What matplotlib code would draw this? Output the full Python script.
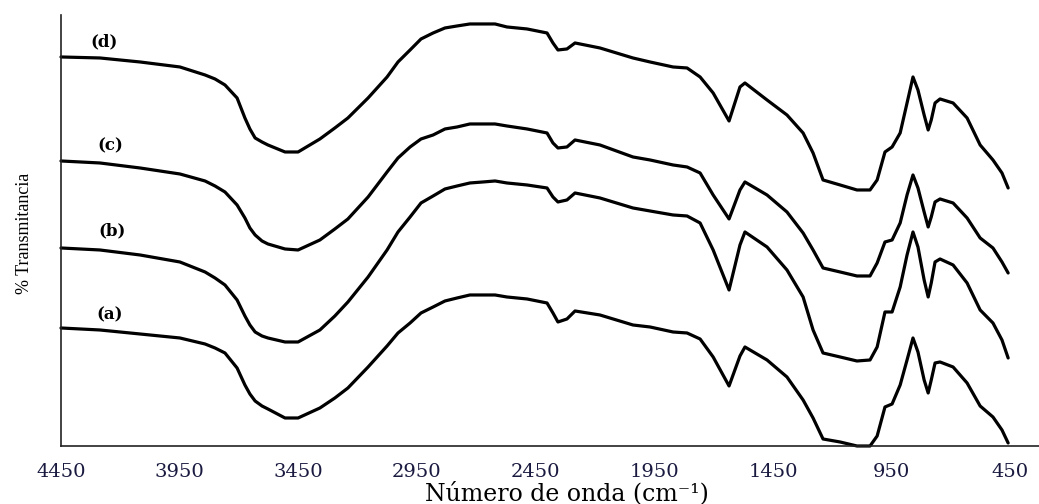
import numpy as np
import matplotlib
matplotlib.use('Agg')
import matplotlib.pyplot as plt

# wavenumbers (cm-1) shared by the four spectra
wavenumber = [4450, 4286, 4117, 3949, 3843, 3801, 3759, 3708, 3675, 3654,
              3632, 3603, 3578, 3506, 3451, 3359, 3296, 3241, 3156, 3076,
              3030, 2979, 2933, 2882, 2832, 2781, 2727, 2672, 2621, 2571,
              2486, 2402,
              2377, 2356, 2318, 2284, 2179, 2040, 1968, 1871, 1812, 1757,
              1702, 1635, 1589, 1568, 1475, 1391, 1323, 1281, 1239, 1167,
              1096, 1041, 1011, 978, 948, 914, 885, 860, 839, 813,
              796, 783, 767, 746, 691, 632, 577, 523, 485, 459]

# stacked transmittance traces (arbitrary units, already offset)
spec_a = [118, 116, 112, 108, 102, 98, 93, 78, 61, 52,
          45, 40, 37, 28, 28, 38, 48, 58, 79, 100,
          113, 123, 133, 139, 145, 148, 151, 151, 151, 149,
          147, 143,
          133, 124, 127, 135, 131, 121, 119, 114, 113, 107,
          89, 60, 90, 99, 86, 69, 46, 28, 7, 4,
          0, 0, 10, 39, 42, 61, 86, 108, 94, 66,
          53, 66, 83, 84, 79, 63, 40, 29, 16, 3]
spec_b = [198, 196, 191, 184, 174, 168, 161, 146, 130, 121,
          114, 110, 108, 104, 104, 116, 130, 144, 169, 196,
          214, 229, 243, 250, 257, 260, 263, 264, 265, 263,
          261, 258,
          249, 244, 246, 253, 248, 238, 235, 231, 230, 223,
          196, 156, 201, 214, 199, 176, 149, 116, 93, 89,
          85, 86, 99, 134, 134, 159, 191, 214, 199, 166,
          149, 163, 184, 187, 181, 163, 136, 123, 106, 88]
spec_c = [285, 283, 278, 272, 265, 260, 254, 241, 228, 218,
          211, 205, 202, 197, 196, 206, 217, 227, 249, 274,
          288, 299, 307, 311, 317, 319, 322, 322, 322, 320,
          317, 313,
          303, 298, 299, 306, 301, 289, 286, 281, 279, 273,
          251, 227, 256, 264, 251, 234, 213, 196, 178, 174,
          170, 170, 183, 204, 206, 223, 251, 271, 258, 234,
          219, 229, 244, 247, 243, 228, 208, 198, 184, 173]
spec_d = [389, 388, 384, 379, 371, 367, 361, 348, 328, 317,
          308, 304, 301, 294, 294, 307, 318, 328, 348, 369,
          384, 396, 407, 413, 418, 420, 422, 422, 422, 419,
          417, 413,
          403, 396, 397, 403, 398, 388, 384, 379, 378, 369,
          353, 325, 359, 363, 346, 331, 313, 293, 266, 261,
          256, 256, 266, 294, 299, 313, 343, 369, 356, 331,
          316, 326, 343, 347, 343, 328, 301, 286, 273, 258]

labels = ['(a)', '(b)', '(c)', '(d)']
label_x = [4244, 4235, 4244, 4269]
label_y = [131, 215, 300, 404]
ticks = [4450, 3950, 3450, 2950, 2450, 1950, 1450, 950, 450]

fig = plt.figure(figsize=(10.39, 5.04), dpi=100)
ax = fig.add_axes([0.0587, 0.1151, 0.9413, 0.8552])

for spec in [spec_a, spec_b, spec_c, spec_d]:
    ax.plot(wavenumber, spec, color='black', lw=2.3,
            solid_joinstyle='round', solid_capstyle='round', clip_on=False)

for lab, lx, ly in zip(labels, label_x, label_y):
    ax.text(lx, ly, lab, fontsize=12, fontweight='bold', family='DejaVu Serif',
            ha='center', va='center')

ax.set_xlim(4450, 329)
ax.set_ylim(0, 431)
ax.set_xticks(ticks)
ax.set_xticklabels([str(t) for t in ticks], family='DejaVu Serif',
                   fontsize=14, color='#1a1a40')
ax.tick_params(axis='x', length=0, pad=12)
ax.set_yticks([])

for side in ['top', 'right']:
    ax.spines[side].set_visible(False)
for side in ['left', 'bottom']:
    ax.spines[side].set_linewidth(1.2)
    ax.spines[side].set_color('#222222')

ax.set_xlabel('Número de onda (cm⁻¹)', family='DejaVu Serif', fontsize=17)
ax.xaxis.set_label_coords(0.517, -0.082)
ax.set_ylabel('% Transmitancia', family='Liberation Serif', fontsize=13, va='center')
ax.yaxis.set_label_coords(-0.0368, 0.494)

plt.savefig('out.png', dpi=100)
